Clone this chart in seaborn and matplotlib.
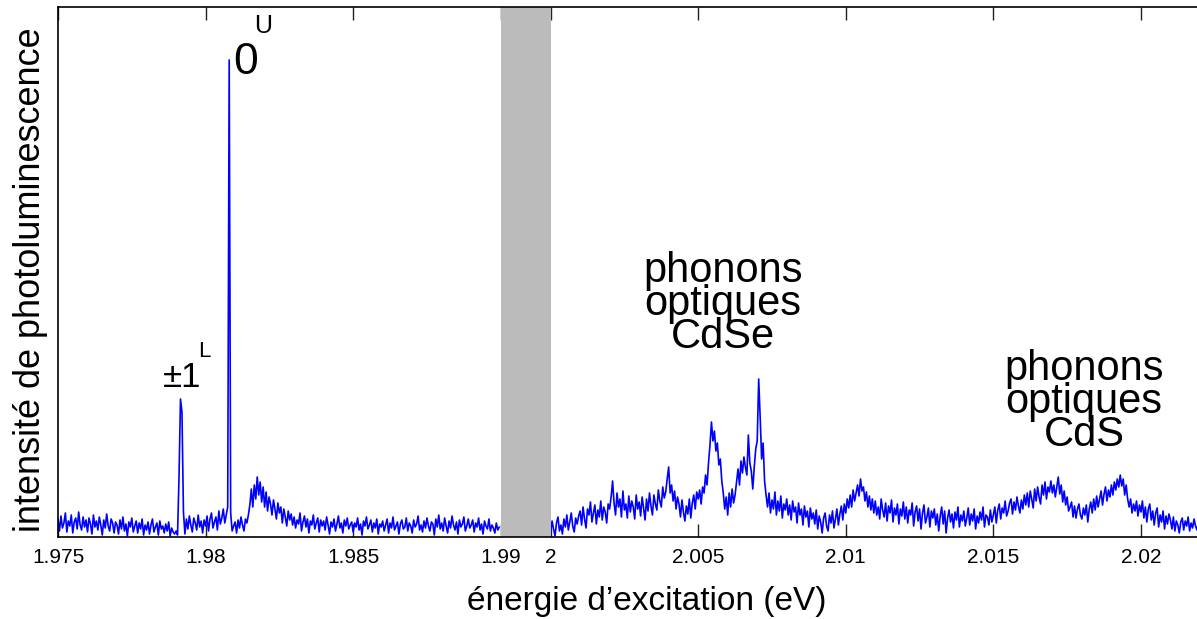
import matplotlib
matplotlib.use("Agg")
import matplotlib.pyplot as plt
import seaborn as sns
import numpy as np
import pandas as pd

# excitation energy grid (eV), one sample every 0.05 meV
STEP = 0.00005
E_LEFT_START = 1.975
E_RIGHT_START = 2.000

# photoluminescence intensity (arb. units), left window 1.975 - 1.990 eV
PL_LEFT = [
    18, 6, 21, 9, 14, 24, 5, 16, 11, 22, 4, 15, 19, 8, 25, 12, 7, 20, 10, 17,
    5, 19, 13, 3, 22, 10, 16, 7, 20, 12, 2, 17, 9, 23, 11, 6, 18, 14, 4, 15,
    12, 3, 17, 8, 20, 6, 13, 1, 15, 10, 19, 5, 11, 16, 4, 14, 8, 18, 2, 12,
    7, 15, 3, 12, 18, 5, 10, 14, 2, 16, 8, 11, 4, 13, 6, 15, 1, 9, 5, 3,
    6, 2, 60, 138, 125, 25, 3, 18, 8, 21, 12, 5, 19, 14, 7, 22, 10, 16, 4, 17,
    11, 21, 6, 18, 24, 9, 15, 20, 7, 26, 13, 19, 28, 14, 22, 30, 477, 24, 6, 11,
    15, 4, 17, 9, 20, 12, 6, 18, 14, 22, 32, 48, 30, 52, 38, 60, 42, 55, 35, 50,
    30, 45, 26, 40, 33, 22, 37, 28, 18, 34, 24, 30, 14, 28, 20, 11, 26, 17, 23, 12,
    20, 9, 17, 13, 24, 6, 15, 21, 10, 18, 4, 16, 12, 22, 8, 14, 19, 5, 17, 11,
    16, 7, 20, 12, 3, 15, 10, 18, 6, 13, 21, 9, 14, 4, 17, 11, 19, 8, 12, 15,
    5, 14, 10, 19, 7, 13, 2, 16, 11, 20, 8, 12, 17, 5, 14, 9, 18, 3, 13, 10,
    16, 6, 12, 18, 4, 14, 9, 20, 7, 11, 15, 3, 13, 17, 8, 10, 19, 6, 14, 11,
    4, 17, 10, 13, 21, 7, 12, 5, 16, 9, 19, 11, 6, 15, 13, 2, 18, 10, 22, 8,
    14, 6, 19, 11, 4, 16, 9, 21, 12, 7, 15, 3, 17, 10, 13, 20, 6, 11, 18, 9,
    12, 17, 5, 14, 10, 19, 7, 13, 3, 16, 11, 8, 18, 6, 12, 9, 4, 14, 7, 10,
]

# right window 2.000 - 2.022 eV
PL_RIGHT = [
    4, 16, 8, 1, 14, 20, 6, 12, 3, 18, 10, 22, 7, 15, 24, 11, 5, 19, 13, 21,
    26, 12, 30, 18, 9, 28, 22, 35, 15, 24, 32, 13, 27, 20, 36, 17, 30, 25, 14, 33,
    28, 40, 56, 34, 22, 44, 30, 38, 20, 46, 27, 33, 19, 41, 25, 36, 30, 18, 42, 28,
    35, 21, 40, 29, 17, 38, 26, 44, 31, 22, 42, 33, 27, 47, 36, 30, 50, 39, 45, 58,
    70, 44, 52, 36, 46, 28, 40, 33, 20, 37, 25, 16, 31, 23, 38, 19, 34, 42, 28, 45,
    38, 47, 33, 50, 44, 62, 52, 74, 92, 115, 96, 106, 86, 94, 72, 78, 56, 44, 28, 40,
    22, 44, 30, 48, 34, 42, 55, 68, 52, 76, 64, 80, 70, 62, 102, 74, 66, 48, 70, 88,
    96, 158, 120, 78, 94, 56, 42, 30, 44, 24, 37, 28, 45, 22, 36, 26, 41, 19, 33, 27,
    38, 22, 32, 17, 36, 25, 30, 14, 34, 22, 28, 12, 31, 20, 26, 10, 29, 18, 24, 13,
    27, 8, 21, 15, 4, 19, 24, 11, 6, 22, 14, 26, 9, 18, 28, 12, 23, 31, 17, 33,
    24, 38, 29, 42, 30, 47, 36, 44, 52, 41, 58, 46, 50, 36, 45, 30, 41, 27, 38, 24,
    36, 22, 30, 18, 38, 27, 20, 34, 16, 31, 24, 37, 15, 29, 22, 33, 13, 28, 21, 35,
    18, 30, 14, 27, 22, 34, 11, 25, 31, 16, 28, 8, 24, 32, 14, 20, 29, 10, 26, 19,
    28, 12, 23, 6, 21, 30, 13, 26, 4, 19, 27, 15, 23, 9, 25, 17, 30, 10, 22, 16,
    26, 11, 19, 29, 12, 23, 16, 28, 8, 21, 14, 25, 17, 30, 10, 22, 20, 12, 27, 15,
    22, 30, 14, 27, 33, 18, 29, 24, 36, 21, 26, 34, 38, 23, 35, 27, 40, 31, 24, 37,
    28, 42, 32, 44, 30, 46, 38, 29, 48, 36, 50, 40, 33, 52, 42, 55, 38, 50, 45, 56,
    44, 52, 40, 50, 60, 43, 52, 35, 46, 32, 40, 26, 30, 35, 20, 31, 19, 28, 33, 22,
    18, 29, 22, 32, 15, 28, 35, 24, 38, 27, 41, 30, 38, 46, 32, 43, 50, 36, 47, 40,
    52, 42, 55, 47, 58, 50, 62, 51, 58, 42, 52, 38, 30, 38, 24, 33, 26, 36, 21, 32,
    25, 36, 19, 30, 15, 28, 33, 17, 26, 12, 24, 29, 10, 22, 15, 26, 8, 21, 13, 23,
    17, 8, 20, 6, 16, 12, 4, 15, 19, 7, 16, 11, 20, 6, 14, 9, 18, 11, 7, 15,
]

TICKS = [1.975, 1.98, 1.985, 1.99, 2.0, 2.005, 2.01, 2.015, 2.02]
TICK_LABELS = ["1.975", "1.98", "1.985", "1.99", "2", "2.005", "2.01", "2.015", "2.02"]
GAP_LO, GAP_HI = 1.99, 2.00
X_MIN, X_MAX = 1.975, 2.0219
Y_MAX = 530

e_left = E_LEFT_START + STEP * np.arange(len(PL_LEFT))
e_right = E_RIGHT_START + STEP * np.arange(len(PL_RIGHT))
df = pd.concat([
    pd.DataFrame({"E": e_left, "PL": PL_LEFT, "part": "left"}),
    pd.DataFrame({"E": e_right, "PL": PL_RIGHT, "part": "right"}),
], ignore_index=True)

# compressed (broken) energy axis: the 1.99-2.00 gap is squeezed
K = 50 / 296


def fwd(x):
    x = np.asarray(x, dtype=float)
    return np.where(x <= GAP_LO, x,
                    np.where(x >= GAP_HI, x - (GAP_HI - GAP_LO) * (1 - K),
                             GAP_LO + (x - GAP_LO) * K))


def inv(y):
    y = np.asarray(y, dtype=float)
    top = GAP_LO + (GAP_HI - GAP_LO) * K
    return np.where(y <= GAP_LO, y,
                    np.where(y >= top, y + (GAP_HI - GAP_LO) * (1 - K),
                             GAP_LO + (y - GAP_LO) / K))


sns.set_theme(style="white")
plt.rcParams["font.family"] = ["Liberation Sans", "DejaVu Sans"]
plt.rcParams["text.color"] = "black"
plt.rcParams["axes.labelcolor"] = "black"
plt.rcParams["xtick.color"] = "black"

fig = plt.figure(figsize=(11.97, 6.19), dpi=100)
ax = fig.add_axes([58 / 1197, 82 / 619, 1139 / 1197, 530 / 619])
ax.set_xscale("function", functions=(fwd, inv))

for part, sub in df.groupby("part"):
    sns.lineplot(data=sub, x="E", y="PL", ax=ax, color="#0000ff",
                 linewidth=1.2, estimator=None, legend=False)

ax.axvspan(GAP_LO, GAP_HI, color="#bbbbbb", lw=0, zorder=3)

ax.set_xlim(X_MIN, X_MAX)
ax.set_ylim(0, Y_MAX)
ax.set_xticks(TICKS)
ax.set_xticklabels(TICK_LABELS, fontsize=15)
ax.set_yticks([])
ax.tick_params(axis="x", direction="in", top=True, bottom=True,
               length=9.5, width=1, color="#222222", pad=8)
for side in ["left", "top", "bottom"]:
    ax.spines[side].set_color("black")
    ax.spines[side].set_linewidth(1.2)
    ax.spines[side].set_zorder(4)
ax.spines["right"].set_visible(False)

ax.set_xlabel("énergie d’excitation (eV)", fontsize=24)
ax.xaxis.set_label_coords((647 - 58) / 1139, -0.093)
ax.set_ylabel("intensité de photoluminescence", fontsize=26)
ax.yaxis.set_label_coords(-0.009, 0.485)

# peak labels, anchored to their peaks
i0 = int(np.argmax(PL_LEFT))
e0, p0 = e_left[i0], PL_LEFT[i0]
ax.annotate("0", (e0, p0), xytext=(4, -14), textcoords="offset pixels",
            fontsize=32, ha="left", va="baseline")
ax.annotate("U", (e0, p0), xytext=(25, 27), textcoords="offset pixels",
            fontsize=18, ha="left", va="baseline")

i1 = int(np.argmax(PL_LEFT[:100]))
e1, p1 = e_left[i1], PL_LEFT[i1]
ax.annotate("±1", (e1, p1), xytext=(21, 12), textcoords="offset pixels",
            fontsize=25, ha="right", va="baseline")
ax.annotate("L", (e1, p1), xytext=(18, 42), textcoords="offset pixels",
            fontsize=16, ha="left", va="baseline")

ax.text(2.00584, 233, "phonons\noptiques\nCdSe", fontsize=30,
        ha="center", va="center", multialignment="center", linespacing=0.78)
ax.text(2.01807, 135, "phonons\noptiques\nCdS", fontsize=30,
        ha="center", va="center", multialignment="center", linespacing=0.78)

fig.savefig("out.png", dpi=100)
plt.close("all")
